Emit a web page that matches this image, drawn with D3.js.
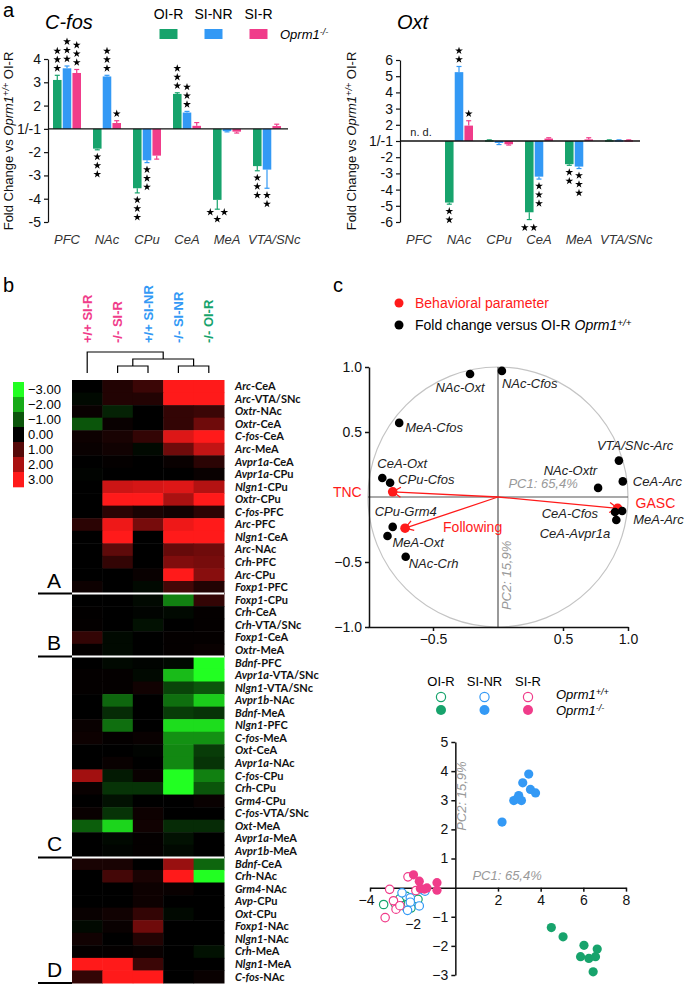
<!DOCTYPE html>
<html><head><meta charset="utf-8">
<script src="https://cdn.jsdelivr.net/npm/d3@7"></script>
<style>body{margin:0;background:#fff}</style>
</head><body>
<script>
// ---------------- DATA ----------------
const regions = ["PFC","NAc","CPu","CeA","MeA","VTA/SNc"];
const groups = ["OI-R","SI-NR","SI-R"];
// C-fos fold change (mean, error-bar end, number of stars)
const cfosMean = [[3.1,3.6,3.4],[-1.85,3.25,1.25],[-3.55,-2.35,-2.15],[2.5,1.7,1.13],[-4.05,-1.1,-1.12],[-2.6,-2.75,1.12]];
const cfosErr  = [[3.3,3.7,3.55],[-1.9,3.3,1.35],[-3.75,-2.45,-2.3],[2.55,1.75,1.27],[-4.45,-1.13,-1.18],[-2.8,-3.55,1.2]];
const cfosStars= [[3,3,3],[3,3,1],[3,3,0],[3,3,0],[3,0,0],[3,2,0]];
// Oxt fold change
const oxtMean = [[null,null,null],[-4.8,5.25,1.95],[1.05,-1.12,-1.2],[-5.4,-3.2,1.15],[-2.43,-2.58,1.1],[1.05,1.05,1.05]];
const oxtErr  = [[null,null,null],[-4.9,5.6,2.25],[1.07,-1.22,-1.25],[-5.85,-3.35,1.2],[-2.5,-2.7,1.2],[1.07,1.07,1.07]];
const oxtStars= [[0,0,0],[2,2,1],[0,0,0],[2,3,0],[2,3,0],[0,0,0]];
const cfosTicks = [4,3,2,1,-2,-3,-4,-5];
const oxtTicks  = [6,5,4,3,2,1,-2,-3,-4,-5,-6];

// Heatmap
const hmCols = ["+/+ SI-R","-/- SI-R","+/+ SI-NR","-/- SI-NR","-/- OI-R"];
const hmRows = ["Arc|CeA","Arc|VTA/SNc","Oxtr|NAc","Oxtr|CeA","C-fos|CeA","Arc|MeA","Avpr1a|CeA","Avpr1a|CPu","Nlgn1|CPu","Oxtr|CPu","C-fos|PFC","Arc|PFC","Nlgn1|CeA","Arc|NAc","Crh|PFC","Arc|CPu","Foxp1|PFC",
 "Foxp1|CPu","Crh|CeA","Crh|VTA/SNc","Foxp1|CeA","Oxtr|MeA",
 "Bdnf|PFC","Avpr1a|VTA/SNc","Nlgn1|VTA/SNc","Avpr1b|NAc","Bdnf|MeA","Nlgn1|PFC","C-fos|MeA","Oxt|CeA","Avpr1a|NAc","C-fos|CPu","Crh|CPu","Grm4|CPu","C-fos|VTA/SNc","Oxt|MeA","Avpr1a|MeA","Avpr1b|MeA",
 "Bdnf|CeA","Crh|NAc","Grm4|NAc","Avp|CPu","Oxt|CPu","Foxp1|NAc","Nlgn1|NAc","Crh|MeA","Nlgn1|MeA","C-fos|NAc"];
const hmValues = [
 [0,0.4,0.7,3,3],[-0.1,0.4,0.4,3,3],[0.1,-0.4,0,0.6,0.7],[-1,0.1,0,0.6,1.3],[0.15,0.3,0.6,2.6,3],[0.1,0.2,-0.1,1.3,2.3],[0,0.05,0,0.1,0.5],[-0.05,0,0,0,0.1],[0,2.4,2.5,2.6,2.1],[0,3,3,2,3],[0,0.5,0.3,0.2,0.5],[0.5,2.8,1.4,2.8,3],[0,3,0,3,3],[0,1.1,0,1.2,1.3],[0,0.6,0,1.5,1.4],[0,0,0.1,3,1.6],[0.15,0,-0.1,0.8,0.4],
 [0,0,-0.1,-1.5,0.6],[0.02,0,-0.05,-0.1,0.05],[0.05,0,-0.2,0,0.05],[0.6,-0.1,0,0.05,0.05],[0.05,-0.1,0,0.05,0.1],
 [0,-0.1,-0.05,-0.1,-3],[0.05,0.05,-0.1,-2.2,-3],[0.05,0.05,0.2,-0.8,-1.0],[0,-1.2,0,-1.3,-2.4],[0,-0.5,0,-0.7,-0.6],[0.1,-1.3,0,-2.6,-2.6],[0.15,0.05,0.1,-1.7,-1.7],[0,0,-0.05,-1.6,-0.7],[0,0.1,0,-1.6,-0.6],[1.9,-0.3,0.1,-3,-1.5],[0.1,-0.6,-0.6,-3,-1.0],[0,-0.2,0,0,0.1],[0.1,-0.6,0.15,0,0],[-1.1,-2.5,0.2,-0.5,-0.5],[0,-0.1,0.05,-0.2,0],[0,-0.05,0.05,-0.1,0],
 [0.3,0.3,0,1.8,-1.2],[0,0.8,0.3,3,-3],[0,0,0.15,0.1,0],[0,0,0.15,0,0],[0.1,0.2,0.6,-0.1,0],[-0.1,0.1,1.3,0,0],[0.2,0,0.4,0,0],[0.05,0.05,0.1,0,-0.2],[3,3,0.7,0,0],[0.6,3,3,0,0.1]];
const hmGroups = ["A","B","C","D"];
const hmGroupSizes = [17,5,16,10];
const hmLegend = [-3,-2,-1,0,1,2,3];
// dendrogram merges: [left, right, height]
const dendro = [[1,2,1],[3,4,1],[5,6,2],[0,7,3]];

// PCA correlation circle
const circNames = ["NAc-Oxt","NAc-Cfos","MeA-Cfos","CeA-Oxt","CPu-Cfos","TNC","VTA/SNc-Arc","NAc-Oxtr","CeA-Arc","GASC","CeA-Cfos","MeA-Arc","CeA-Avpr1a","CPu-Grm4","Following","MeA-Oxt","NAc-Crh"];
const circX = [-0.215,0.03,-0.76,-0.89,-0.83,-0.81,0.93,0.77,0.96,0.92,0.90,0.955,0.91,-0.81,-0.715,-0.85,-0.71];
const circY = [0.946,0.97,0.57,0.146,0.11,0.04,0.28,0.07,0.12,-0.087,-0.115,-0.108,-0.177,-0.23,-0.24,-0.30,-0.46];
const circBehav = ["TNC","GASC","Following"];

// PCA individuals
const pcaOIRwt = [[-3.36,-0.58],[-2.82,-0.55],[-2.6,-0.38],[-2.45,-0.62],[-2.2,-0.55],[-2.08,-0.7],[-1.75,-0.4],[-2.3,-0.3]];
const pcaSINRwt = [[-2.5,-0.18],[-2.11,-0.35],[-2.11,-0.5],[-2.24,-0.78],[-1.69,-0.63],[-1.56,-0.07],[-1.42,-0.12]];
const pcaSIRwt = [[-2.22,0.37],[-3.08,-0.06],[-3.29,-1.03],[-2.78,-0.74],[-2.9,-0.45],[-2.6,-0.62],[-1.85,-0.1]];
const pcaOIRko = [[4.5,-1.37],[5.05,-1.69],[6.03,-1.98],[6.65,-2.11],[5.87,-2.37],[6.26,-2.43],[6.57,-2.37],[6.46,-2.89]];
const pcaSINRko = [[3.44,3.9],[3.16,3.6],[3.52,3.37],[3.76,3.25],[2.97,3.16],[2.74,2.99],[3.1,2.99],[2.9,3.05],[2.19,2.25]];
const pcaSIRko = [[-1.96,0.44],[-1.69,0.22],[-1.33,-0.01],[-0.86,0.17],[-0.86,-0.09],[-1.64,-0.03],[-1.45,-0.05]];

// ---------------- STYLE ----------------
const FONT = "'Liberation Sans', Arial, sans-serif";
const GREEN = "#17a36c", BLUE = "#3399f5", PINK = "#f03c8a";
const grpColor = {"OI-R":GREEN,"SI-NR":BLUE,"SI-R":PINK};

const svg = d3.select("body").append("svg").attr("width",685).attr("height",986)
  .style("font-family",FONT);

function supText(sel, parts){
  parts.forEach(p=>{
    const t = sel.append("tspan").text(p[0]);
    if(p[1]==="i") t.attr("font-style","italic");
    if(p[1]==="isup"){ t.attr("font-style","italic").attr("font-size","0.7em").attr("dy","-0.45em"); }
    if(p[1]==="after") t.attr("dy","0.32em");
  });
}

// ---------------- PANEL a ----------------
function barPanel(cfg){
  const g = svg.append("g");
  const lin = v => v>0 ? v-1 : v+1;
  const y = d3.scaleLinear().domain(cfg.domain).range([222, cfg.top]);
  const x = d3.scaleBand().domain(regions).range([cfg.ax-1, cfg.ax+239]);
  const xs = d3.scaleBand().domain(groups).range([-14,14]).paddingInner(0.12);
  const axis = d3.axisLeft(y).tickValues(cfg.ticks.map(lin))
     .tickFormat(d => d===0 ? "1/-1" : String(d>0 ? d+1 : d-1)).tickSize(4).tickSizeOuter(0);
  const ag = g.append("g").attr("transform",`translate(${cfg.ax},0)`).call(axis);
  ag.selectAll("text").attr("font-size",14).attr("fill","#111").attr("font-family",FONT);
  ag.selectAll("line,path").attr("stroke","#111").attr("stroke-width",1.2);
  const sym = d3.symbol(d3.symbolStar).size(19)();
  regions.forEach((r,i)=>{
    groups.forEach((gr,j)=>{
      const m = cfg.mean[i][j]; if(m===null) return;
      const e = cfg.err[i][j];
      const cx = x(r)+x.bandwidth()/2 + xs(gr) + xs.bandwidth()/2;
      const y0 = y(0), y1 = y(lin(m)), ye = y(lin(e));
      const col = grpColor[gr];
      g.append("line").attr("x1",cx).attr("x2",cx).attr("y1",y1).attr("y2",ye).attr("stroke",col).attr("stroke-width",1.2);
      g.append("line").attr("x1",cx-2.5).attr("x2",cx+2.5).attr("y1",ye).attr("y2",ye).attr("stroke",col).attr("stroke-width",1.2);
      g.append("rect").attr("x",cx-xs.bandwidth()/2).attr("width",xs.bandwidth())
        .attr("y",Math.min(y0,y1)).attr("height",Math.max(1.5,Math.abs(y1-y0))).attr("fill",col);
      const n = cfg.stars[i][j]; if(!n) return;
      const dir = m>0 ? -1 : 1;
      const key = r+"|"+gr;
      let pts=[];
      if(cfg.tri===key) pts=[[cx-7,ye+3],[cx+7,ye+3],[cx,ye+10]];
      else if(cfg.hor===key) pts=[[cx-4.5,ye+8],[cx+4.5,ye+8]];
      else for(let k=0;k<n;k++) pts.push([cx, ye+dir*(7+k*8.7)]);
      pts.forEach(p=> g.append("path").attr("d",sym).attr("transform",`translate(${p[0]},${p[1]})`).attr("fill","#000"));
    });
    const t = g.append("text").attr("y",244)
      .attr("font-size",13).attr("font-style","italic").attr("fill","#333").text(r);
    const w = t.node().getComputedTextLength();
    if(w > x.bandwidth()) t.attr("x",x(r)+1).attr("text-anchor","start");
    else t.attr("x",x(r)+x.bandwidth()/2).attr("text-anchor","middle");
  });
  g.append("line").attr("x1",cfg.ax).attr("x2",cfg.ax+240).attr("y1",y(0)).attr("y2",y(0)).attr("stroke","#111").attr("stroke-width",1.3);
  if(cfg.nd){
    g.append("text").attr("x",x("PFC")+x.bandwidth()/2+2).attr("y",y(0)-5).attr("text-anchor","middle")
      .attr("font-size",11).attr("fill","#222").text("n. d.");
  }
  g.append("text").attr("x",cfg.ax-3).attr("y",29).attr("font-size",20).attr("font-style","italic").text(cfg.title);
  const yl = g.append("text").attr("transform",`translate(${cfg.ylx},${141}) rotate(-90)`).attr("text-anchor","middle").attr("font-size",13).attr("fill","#111");
  supText(yl,[["Fold Change vs ","n"],["Oprm1","i"],["+/+","isup"],[" OI-R","after"]]);
}
barPanel({ax:48, domain:[-4,3], top:59, ticks:cfosTicks, mean:cfosMean, err:cfosErr, stars:cfosStars, tri:"MeA|OI-R", title:"C-fos", ylx:13});
barPanel({ax:400, domain:[-5,5], top:60, ticks:oxtTicks, mean:oxtMean, err:oxtErr, stars:oxtStars, hor:"CeA|OI-R", title:"Oxt", nd:true, ylx:356});

svg.append("text").attr("x",3).attr("y",17).attr("font-size",20).text("a");
const lgx = d3.scaleBand().domain(groups).range([146,281]);
groups.forEach(gr=>{
  const c = lgx(gr)+lgx.bandwidth()/2;
  svg.append("text").attr("x",c).attr("y",19).attr("text-anchor","middle").attr("font-size",14).text(gr);
  svg.append("rect").attr("x",c-9).attr("y",29).attr("width",18).attr("height",10).attr("fill",grpColor[gr]);
});
supText(svg.append("text").attr("x",280).attr("y",39).attr("font-size",13),[["Oprm1","i"],["-/-","isup"]]);

// ---------------- PANEL b ----------------
svg.append("text").attr("x",3).attr("y",292).attr("font-size",20).text("b");
const hx = d3.scaleBand().domain(d3.range(hmCols.length)).range([72,224]);
const hy = d3.scaleBand().domain(d3.range(hmRows.length)).range([380,983]);
const hcolor = d3.scaleLinear().domain([-3,0,3]).range(["#22ff22","#000000","#ff1a1a"]).clamp(true);
const colColors = [PINK,PINK,BLUE,BLUE,GREEN];
hmValues.forEach((row,i)=>row.forEach((v,j)=>{
  svg.append("rect").attr("x",hx(j)).attr("y",hy(i)).attr("width",hx.bandwidth()+0.5).attr("height",hy.bandwidth()+0.5).attr("fill",hcolor(v));
}));
hmRows.forEach((r,i)=>{
  const [gene,reg] = r.split("|");
  const t = svg.append("text").attr("x",235).attr("y",hy(i)+hy.bandwidth()/2).attr("dy","0.35em")
    .attr("font-size",11).attr("font-weight","bold").attr("font-family","Lato, 'Liberation Sans', sans-serif").attr("fill","#111");
  t.append("tspan").attr("font-style","italic").text(gene);
  t.append("tspan").text("-"+reg);
});
let acc=0;
hmGroups.forEach((gname,k)=>{
  acc += hmGroupSizes[k];
  const yy = acc<hmRows.length ? hy(acc) : hy.range()[1];
  if(acc<hmRows.length) svg.append("line").attr("x1",72).attr("x2",224).attr("y1",yy).attr("y2",yy).attr("stroke","#fff").attr("stroke-width",2);
  svg.append("line").attr("x1",38).attr("x2",72).attr("y1",yy).attr("y2",yy).attr("stroke","#000").attr("stroke-width",2);
  svg.append("text").attr("x",47).attr("y",yy-6).attr("font-size",21).text(gname);
});
hmCols.forEach((c,j)=>{
  svg.append("text").attr("transform",`translate(${hx(j)+hx.bandwidth()/2},343) rotate(-90)`)
    .attr("dominant-baseline","central").attr("font-size",13).attr("font-weight","bold").attr("fill",colColors[j]).text(c);
});
const dh = d3.scaleLinear().domain([0,3]).range([373,352]);
const nodes = hmCols.map((c,j)=>({x:hx(j)+hx.bandwidth()/2, h:0}));
dendro.forEach(([a,b,h])=>{
  const A=nodes[a], B=nodes[b];
  const p = d3.path();
  p.moveTo(A.x,dh(A.h)); p.lineTo(A.x,dh(h)); p.lineTo(B.x,dh(h)); p.lineTo(B.x,dh(B.h));
  svg.append("path").attr("d",p.toString()).attr("fill","none").attr("stroke","#000").attr("stroke-width",1.2);
  nodes.push({x:(A.x+B.x)/2, h:h});
});
const ly = d3.scaleBand().domain(hmLegend).range([382,487]);
hmLegend.forEach(v=>{
  svg.append("rect").attr("x",13).attr("y",ly(v)).attr("width",11).attr("height",ly.bandwidth()+0.3).attr("fill",hcolor(v));
  svg.append("text").attr("x",28).attr("y",ly(v)+ly.bandwidth()/2).attr("dy","0.35em").attr("font-size",13).text(d3.format(".2f")(v));
});

// ---------------- PANEL c ----------------
svg.append("text").attr("x",333).attr("y",292).attr("font-size",20).text("c");
svg.append("circle").attr("cx",399).attr("cy",303).attr("r",4.5).attr("fill","#ff1a1a");
svg.append("text").attr("x",415).attr("y",308).attr("font-size",14).attr("fill","#ff1a1a").text("Behavioral parameter");
svg.append("circle").attr("cx",399).attr("cy",325).attr("r",4.5).attr("fill","#000");
supText(svg.append("text").attr("x",415).attr("y",330).attr("font-size",14),[["Fold change versus OI-R ","n"],["Oprm1","i"],["+/+","isup"]]);

const cx = d3.scaleLinear().domain([-1,1]).range([368,628]);
const cy = d3.scaleLinear().domain([-1,1]).range([627,367]);
svg.append("circle").attr("cx",cx(0)).attr("cy",cy(0)).attr("r",cx(1)-cx(0)).attr("fill","none").attr("stroke","#c4c4c4").attr("stroke-width",1.2);
svg.append("line").attr("x1",cx(-1)).attr("x2",cx(1)).attr("y1",cy(0)).attr("y2",cy(0)).attr("stroke","#555").attr("stroke-width",1.2);
svg.append("line").attr("x1",cx(0)).attr("x2",cx(0)).attr("y1",cy(1)).attr("y2",cy(-1)).attr("stroke","#555").attr("stroke-width",1.2);
const cax = svg.append("g").attr("transform",`translate(${cx(-1)+1},0)`).call(d3.axisLeft(cy).tickValues([-1,-0.5,0.5,1]).tickFormat(d3.format(".1f")).tickSize(4).tickSizeOuter(0));
const cbx = svg.append("g").attr("transform",`translate(0,${cy(-1)})`).call(d3.axisBottom(cx).tickValues([-0.5,0.5,1]).tickFormat(d3.format(".1f")).tickSize(4).tickSizeOuter(0));
[cax,cbx].forEach(a=>{a.selectAll("text").attr("font-size",14).attr("font-family",FONT).attr("fill","#111"); a.selectAll("path,line").attr("stroke","#111").attr("stroke-width",1.5);});
svg.append("text").attr("x",cx(0.08)).attr("y",cy(0.07)).attr("font-size",13).attr("font-style","italic").attr("fill","#999").text("PC1: 65,4%");
svg.append("text").attr("transform",`translate(${cx(0.1)},${cy(-0.87)}) rotate(-90)`).attr("font-size",13).attr("font-style","italic").attr("fill","#999").text("PC2: 15,9%");
const defs = svg.append("defs");
defs.append("marker").attr("id","arr").attr("viewBox","0 -6 12 12").attr("refX",9).attr("refY",0).attr("markerWidth",12).attr("markerHeight",12).attr("markerUnits","userSpaceOnUse").attr("orient","auto")
  .append("path").attr("d","M1,-5L9,0L1,5").attr("fill","none").attr("stroke","#ff1a1a").attr("stroke-width",1.3);
const circLab = {"NAc-Oxt":[-10,18,"middle"],"NAc-Cfos":[0,17,"start"],"MeA-Cfos":[6,9,"start"],"CeA-Oxt":[-5,-10,"start"],"CPu-Cfos":[8,1,"start"],
 "TNC":[-31,5,"end"],"VTA/SNc-Arc":[-22,-11,"start"],"NAc-Oxtr":[-1,-13,"end"],"CeA-Arc":[10,5,"start"],"GASC":[18,0,"start"],"CeA-Cfos":[-17,6,"end"],
 "MeA-Arc":[11,13,"start"],"CeA-Avpr1a":[-6,18,"end"],"CPu-Grm4":[-18,-11,"start"],"Following":[38,4,"start"],"MeA-Oxt":[5,11,"start"],"NAc-Crh":[3,11,"start"]};
circNames.forEach((n,i)=>{
  if(circBehav.includes(n)){
    svg.append("line").attr("x1",cx(0)).attr("y1",cy(0)).attr("x2",cx(circX[i])).attr("y2",cy(circY[i]))
      .attr("stroke","#ff1a1a").attr("stroke-width",1.3).attr("marker-end","url(#arr)");
  }
});
circNames.forEach((n,i)=>{
  const b = circBehav.includes(n);
  const px = cx(circX[i]), py = cy(circY[i]);
  svg.append("circle").attr("cx",px).attr("cy",py).attr("r",b?4.8:4.3).attr("fill",b?"#ff1a1a":"#000");
  const L = circLab[n];
  svg.append("text").attr("x",px+L[0]).attr("y",py+L[1]).attr("text-anchor",L[2])
    .attr("font-size",b?14:13).attr("font-style",b?"normal":"italic").attr("fill",b?"#ff1a1a":"#222").text(n);
});

// ---------------- PCA individuals ----------------
const sx = d3.scaleLinear().domain([-4,8]).range([370,626]);
const sy = d3.scaleLinear().domain([-3,5]).range([975,742]);
const say = svg.append("g").attr("transform",`translate(${sx(0)},0)`).call(d3.axisLeft(sy).tickValues([-3,-2,-1,1,2,3,4,5]).tickSize(4).tickSizeOuter(0));
const sax = svg.append("g").attr("transform",`translate(0,${sy(0)})`).call(d3.axisBottom(sx).tickValues([-4,-2,2,4,6,8]).tickSize(4).tickSizeOuter(0));
[say,sax].forEach(a=>{a.selectAll("text").attr("font-size",14).attr("font-family",FONT).attr("fill","#111"); a.selectAll("path,line").attr("stroke","#111").attr("stroke-width",1.5);});
sax.selectAll(".tick").filter(d=>d===-2).select("text").attr("y",31);
sax.selectAll(".tick").filter(d=>d===-4).select("text").attr("x",-4);
svg.append("text").attr("x",sx(0.8)).attr("y",sy(0.25)).attr("font-size",13).attr("font-style","italic").attr("fill","#999").text("PC1: 65,4%");
svg.append("text").attr("transform",`translate(${sx(0.5)},${sy(1.95)}) rotate(-90)`).attr("font-size",13).attr("font-style","italic").attr("fill","#999").text("PC2: 15,9%");
const openSets = [[pcaOIRwt,GREEN],[pcaSINRwt,BLUE],[pcaSIRwt,PINK]];
const fillSets = [[pcaOIRko,GREEN],[pcaSINRko,BLUE],[pcaSIRko,PINK]];
openSets.forEach(([pts,c])=>pts.forEach(p=>svg.append("circle").attr("cx",sx(p[0])).attr("cy",sy(p[1])).attr("r",4.2).attr("fill","#fff").attr("stroke",c).attr("stroke-width",1.2)));
fillSets.forEach(([pts,c])=>pts.forEach(p=>svg.append("circle").attr("cx",sx(p[0])).attr("cy",sy(p[1])).attr("r",4.6).attr("fill",c)));
const slx = d3.scalePoint().domain(groups).range([441,528]);
groups.forEach(gr=>{
  svg.append("text").attr("x",slx(gr)).attr("y",686).attr("text-anchor","middle").attr("font-size",13).text(gr);
  svg.append("circle").attr("cx",slx(gr)).attr("cy",697).attr("r",4.6).attr("fill","#fff").attr("stroke",grpColor[gr]).attr("stroke-width",1.2);
  svg.append("circle").attr("cx",slx(gr)).attr("cy",710).attr("r",5).attr("fill",grpColor[gr]);
});
supText(svg.append("text").attr("x",556).attr("y",699).attr("font-size",13),[["Oprm1","i"],["+/+","isup"]]);
supText(svg.append("text").attr("x",556).attr("y",715).attr("font-size",13),[["Oprm1","i"],["-/-","isup"]]);
</script>
</body></html>
